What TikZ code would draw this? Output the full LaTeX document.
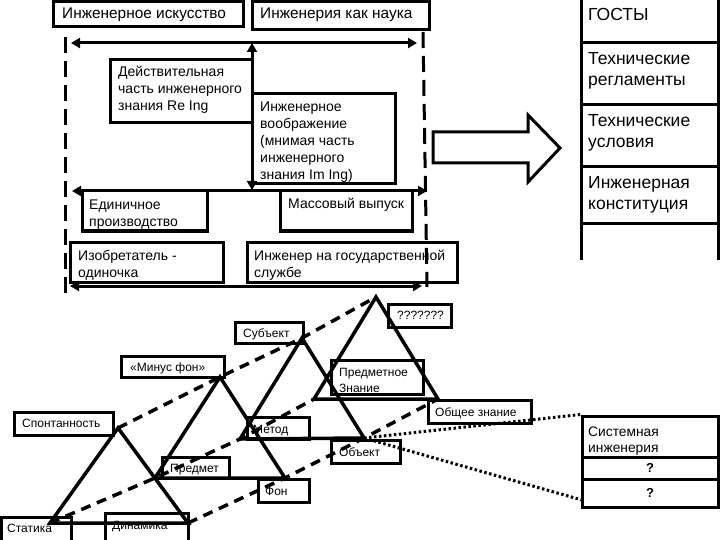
\documentclass[tikz,border=0pt]{standalone}
\usepackage{fontspec}
\setmainfont{Liberation Sans}
\usetikzlibrary{arrows.meta,fit,calc}
\newcommand{\mybox}[5]{\coordinate (#1-a) at (#2,#3); \coordinate (#1-b) at (#4,#5); \node[bx, fit=(#1-a)(#1-b)] (#1) {};}
\begin{document}
\begin{tikzpicture}[x=1pt,y=-1pt,
  bx/.style={draw, line width=3pt, inner sep=0pt},
  txt/.style={inner sep=0pt, anchor=base west, align=left},
  tA/.style={txt, font=\fontsize{15.4}{18}\selectfont},
  tB/.style={txt, font=\fontsize{14}{17}\selectfont},
  tC/.style={txt, font=\fontsize{17.5}{21.3}\selectfont},
  tD/.style={txt, font=\fontsize{12}{16}\selectfont},
  tE/.style={txt, font=\fontsize{13.8}{16}\selectfont},
  qm/.style={inner sep=0pt, font=\fontsize{13}{15}\selectfont\bfseries},
  vdash/.style={line width=3pt, dash pattern=on 16pt off 8pt},
  darr/.style={line width=3pt, {Triangle[length=9pt,width=10pt]}-{Triangle[length=9pt,width=10pt]}},
  tri/.style={line width=3.5pt, line join=miter},
  dsh/.style={line width=3.5pt, dash pattern=on 10pt off 7pt},
  dotl/.style={line width=3pt, dash pattern=on 2.5pt off 2.5pt},
]
\useasboundingbox (0,0) rectangle (720,540);
% top boxes
\mybox{ii}{53}{1.5}{243}{27}
\mybox{ins}{252}{1.5}{429}{30}
\node[tA] (iit) at (62,19) {Инженерное искусство};
\node[tA] (inst) at (260,19) {Инженерия как наука};
% dashed verticals
\coordinate (L1) at (65,37); \coordinate (L2) at (65,293);
\coordinate (R1) at (423,32); \coordinate (R2) at (427,287);
\draw[vdash] (L1) -- (L2);
\draw[vdash] (R1) -- (R2);
% middle boxes
\mybox{re}{110}{60}{252}{123}
\mybox{im}{252}{94}{395}{184}
\mybox{ed}{82}{191}{207}{231}
\mybox{ms}{280}{191}{412}{231}
\mybox{iz}{70}{242}{223}{282}
\mybox{gs}{247}{242}{457}{282}
% (base anchor of multi-line nodes = last line)
\node[tB] (ret) at (118,111) {Действительная\\часть инженерного\\знания Re Ing};
\node[tB] (imt) at (260,180) {Инженерное\\воображение\\(мнимая часть\\инженерного\\знания Im Ing)};
\node[tB] (edt) at (89,226) {Единичное\\производство};
\node[tB] (mst) at (288,209) {Массовый выпуск};
\node[tB] (izt) at (78,277) {Изобретатель -\\одиночка};
\node[tB] (gst) at (254,277) {Инженер на государственной\\службе};
% double arrows
\coordinate (A1l) at (71,43); \coordinate (A1r) at (417,43);
\coordinate (A2l) at (72,191); \coordinate (A2r) at (427,191);
\coordinate (A3l) at (70,286); \coordinate (A3r) at (422,286);
\coordinate (V1) at (252,43); \coordinate (V2) at (252,190);
\draw[darr] (A1l) -- (A1r);
\draw[darr] (A2l) -- (A2r);
\draw[darr] (A3l) -- (A3r);
\draw[darr] (V1) -- (V2);
% block arrow
\draw[line width=3pt, line join=miter] (433,132) -- (528,132) -- (528,115) -- (560,148) -- (528,182) -- (528,163) -- (433,163) -- cycle;
% right column
\draw[line width=3pt] (581,-2) -- (581,260);
\draw[line width=3pt] (718,-2) -- (718,260);
\foreach \yy in {43,105,167,224} {\draw[line width=3pt] (581,\yy) -- (722,\yy);}
\node[tC] (g1) at (588,21) {ГОСТЫ};
\node[tC] (g2) at (588,86) {Технические\\регламенты};
\node[tC] (g3) at (588,148) {Технические\\условия};
\node[tC] (g4) at (588,209.5) {Инженерная\\конституция};
% bottom boxes
\mybox{sub}{235}{322}{303}{343}
\mybox{mf}{121}{356}{224}{377}
\mybox{sp}{14}{412}{113}{435}
\mybox{met}{247}{417}{309}{439}
\mybox{pr}{162}{457}{229}{478}
\mybox{fon}{258}{479}{309}{502}
\mybox{st}{1.5}{517}{71}{542}
\mybox{dyn}{105}{513}{188}{542}
\mybox{pz}{331}{360}{423}{394}
\mybox{qq}{388}{304}{451}{327}
\mybox{oz}{428}{400}{531}{423}
\mybox{ob}{331}{440}{400}{463}
\mybox{sys1}{582}{416}{718}{457}
\mybox{sys2}{582}{457}{718}{479}
\mybox{sys3}{582}{479}{718}{507}
\node[tD] (subt) at (243,337) {Субъект};
\node[tD] (mft) at (130,371) {«Минус фон»};
\node[tD] (spt) at (22,427) {Спонтанность};
\node[tD] (mett) at (253,433) {Метод};
\node[tD] (prt) at (170,472) {Предмет};
\node[tD] (font) at (265,495) {Фон};
\node[tD] (stt) at (7,532) {Статика};
\node[tD] (dynt) at (112,529) {Динамика};
\node[tD] (qqt) at (397,319) {???????};
\node[tD] (ozt) at (435,416) {Общее знание};
\node[tD] (obt) at (339,456) {Объект};
\node[tD] (pzt) at (339,392) {Предметное\\Знание};
\node[tE] (syst) at (588,452) {Системная\\инженерия};
\node[qm] (q1) at (sys2.center) {?};
\node[qm] (q2) at (sys3.center) {?};
% triangles
\coordinate (t1a) at (118,428); \coordinate (t1l) at (50,523); \coordinate (t1r) at (188,523);
\coordinate (t2a) at (220,377); \coordinate (t2l) at (155,478); \coordinate (t2r) at (285,478);
\coordinate (t3a) at (302,338); \coordinate (t3l) at (240,439); \coordinate (t3r) at (364,438);
\coordinate (t4a) at (376,297); \coordinate (t4l) at (314,399); \coordinate (t4r) at (438,399);
\draw[tri] (t1a) -- (t1l) -- (t1r) -- cycle;
\draw[tri] (t2a) -- (t2l) -- (t2r) -- cycle;
\draw[tri] (t3a) -- (t3l) -- (t3r) -- cycle;
\draw[tri] (t4a) -- (t4l) -- (t4r) -- cycle;
\draw[dsh] (t1a) -- (t2a) -- (t3a) -- (t4a);
\draw[dsh] (t1l) -- (t2l) -- (t3l) -- (t4l);
\draw[dsh] (t1r) -- (t2r) -- (t3r) -- (t4r);
% dotted
\coordinate (se) at (582,500);
\draw[dotl] (t3r) -- (sys1.north west);
\draw[dotl] (t3r) -- (se);
\end{tikzpicture}
\end{document}
